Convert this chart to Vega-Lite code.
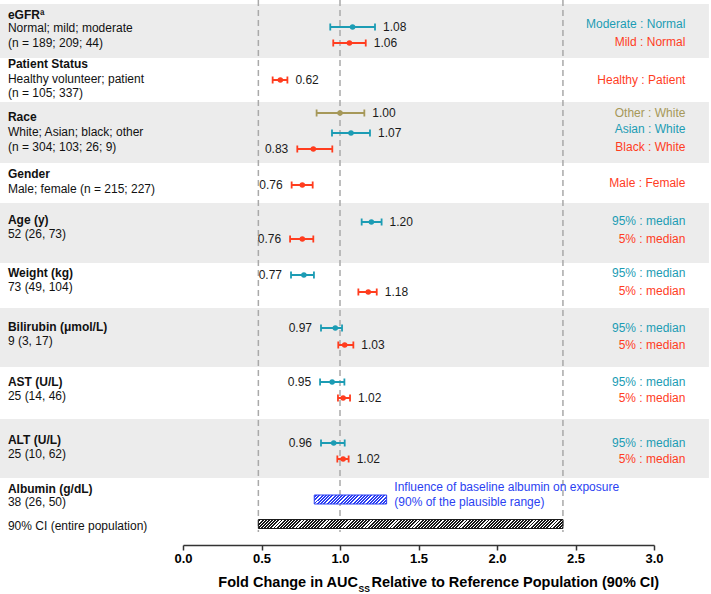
{
"$schema":"https://vega.github.io/schema/vega-lite/v6.json",
"width":471,"height":545,
"autosize":{"type":"none"},
"padding":{"left":183,"right":57,"top":0,"bottom":49},
"background":"white",
"config":{"view":{"stroke":null},"font":"Liberation Sans","text":{"font":"Liberation Sans"},
 "axisX":{"labelOverlap":false,"labelFlush":false,"labelFont":"Liberation Sans","labelFontWeight":"bold","labelFontSize":13,"labelColor":"#000","labelPadding":2,"tickSize":5,"tickWidth":1.5,"tickColor":"#333","domainColor":"#333","domainWidth":1.5,"grid":false,"tickCount":12,"labelExpr":"datum.value % 0.5 == 0 ? format(datum.value, '.1f') : ''"}},
"data":{"values":[{}]},
"datasets":{
"bands":[{"y1":0.4,"y2":5.8},{"y1":10.2,"y2":16.3},{"y1":20.3,"y2":26.3},{"y1":30.8,"y2":36.7},{"y1":41.9,"y2":47.8}],
"refs":[{"ref":0.48},{"ref":1.0},{"ref":2.42}],
"est":[
{"cov":"eGFR","cmp":"1","y":2.7,"est":1.08,"lo":0.938,"hi":1.223,"side":"R"},
{"cov":"eGFR","cmp":"2","y":4.3,"est":1.06,"lo":0.957,"hi":1.164,"side":"R"},
{"cov":"Patient","cmp":"2","y":8.0,"est":0.62,"lo":0.571,"hi":0.665,"side":"R"},
{"cov":"Race","cmp":"3","y":11.3,"est":1.00,"lo":0.851,"hi":1.155,"side":"R"},
{"cov":"Race","cmp":"1","y":13.3,"est":1.07,"lo":0.949,"hi":1.191,"side":"R"},
{"cov":"Race","cmp":"2","y":14.9,"est":0.83,"lo":0.728,"hi":0.951,"side":"L"},
{"cov":"Gender","cmp":"2","y":18.5,"est":0.76,"lo":0.692,"hi":0.826,"side":"L"},
{"cov":"Age","cmp":"1","y":22.2,"est":1.20,"lo":1.138,"hi":1.265,"side":"R"},
{"cov":"Age","cmp":"2","y":23.9,"est":0.76,"lo":0.682,"hi":0.830,"side":"L"},
{"cov":"Weight","cmp":"1","y":27.5,"est":0.77,"lo":0.688,"hi":0.834,"side":"L"},
{"cov":"Weight","cmp":"2","y":29.2,"est":1.18,"lo":1.117,"hi":1.234,"side":"R"},
{"cov":"Bilirubin","cmp":"1","y":32.8,"est":0.97,"lo":0.879,"hi":1.013,"side":"L"},
{"cov":"Bilirubin","cmp":"2","y":34.5,"est":1.03,"lo":0.989,"hi":1.085,"side":"R"},
{"cov":"AST","cmp":"1","y":38.2,"est":0.95,"lo":0.873,"hi":1.028,"side":"L"},
{"cov":"AST","cmp":"2","y":39.8,"est":1.02,"lo":0.987,"hi":1.064,"side":"R"},
{"cov":"ALT","cmp":"1","y":44.3,"est":0.96,"lo":0.879,"hi":1.030,"side":"L"},
{"cov":"ALT","cmp":"2","y":45.9,"est":1.02,"lo":0.983,"hi":1.055,"side":"R"}
],
"left":[
{"t":"eGFRª","y":1.5,"b":1},{"t":"Normal; mild; moderate","y":2.8,"b":0},{"t":"(n = 189; 209; 44)","y":4.3,"b":0},
{"t":"Patient Status","y":6.4,"b":1},{"t":"Healthy volunteer; patient","y":7.9,"b":0},{"t":"(n = 105; 337)","y":9.3,"b":0},
{"t":"Race","y":11.7,"b":1},{"t":"White; Asian; black; other","y":13.2,"b":0},{"t":"(n = 304; 103; 26; 9)","y":14.7,"b":0},
{"t":"Gender","y":17.4,"b":1},{"t":"Male; female (n = 215; 227)","y":18.9,"b":0},
{"t":"Age (y)","y":22.0,"b":1},{"t":"52 (26, 73)","y":23.4,"b":0},
{"t":"Weight (kg)","y":27.3,"b":1},{"t":"73 (49, 104)","y":28.7,"b":0},
{"t":"Bilirubin (μmol/L)","y":32.7,"b":1},{"t":"9 (3, 17)","y":34.1,"b":0},
{"t":"AST (U/L)","y":38.2,"b":1},{"t":"25 (14, 46)","y":39.6,"b":0},
{"t":"ALT (U/L)","y":44.0,"b":1},{"t":"25 (10, 62)","y":45.4,"b":0},
{"t":"Albumin (g/dL)","y":48.9,"b":1},{"t":"38 (26, 50)","y":50.2,"b":0},
{"t":"90% CI (entire population)","y":52.6,"b":0}
],
"right":[
{"t":"Moderate :  Normal","y":2.4,"cmp":"1"},{"t":"Mild : Normal","y":4.2,"cmp":"2"},
{"t":"Healthy : Patient","y":8.0,"cmp":"2"},
{"t":"Other : White","y":11.3,"cmp":"3"},{"t":"Asian : White","y":12.9,"cmp":"1"},{"t":"Black : White","y":14.7,"cmp":"2"},
{"t":"Male : Female","y":18.3,"cmp":"2"},
{"t":"95% : median","y":22.1,"cmp":"1"},{"t":"5% : median","y":23.9,"cmp":"2"},
{"t":"95% : median","y":27.3,"cmp":"1"},{"t":"5% : median","y":29.1,"cmp":"2"},
{"t":"95% : median","y":32.8,"cmp":"1"},{"t":"5% : median","y":34.5,"cmp":"2"},
{"t":"95% : median","y":38.2,"cmp":"1"},{"t":"5% : median","y":39.8,"cmp":"2"},
{"t":"95% : median","y":44.3,"cmp":"1"},{"t":"5% : median","y":45.9,"cmp":"2"}
],
"albumin":[{"lo":0.836,"hi":1.297,"y1":49.5,"y2":50.4}],
"albnote":[{"t":"Influence of baseline albumin on exposure","y":48.7},{"t":"(90% of the plausible range)","y":50.2}],
"pop":[{"lo":0.48,"hi":2.42,"y1":51.95,"y2":52.85}]
},
"layer":[
{"data":{"name":"bands"},"mark":{"type":"rect","fill":"#ececec"},
 "encoding":{
  "x":{"datum":-1.166,"type":"quantitative","title":null,"scale":{"domain":[0,3],"nice":false,"zero":false}},
  "x2":{"datum":3.35},
  "y":{"field":"y1","type":"quantitative","scale":{"domain":[0,54.5],"reverse":true,"nice":false,"zero":false},"axis":null},
  "y2":{"field":"y2"}}},
{"data":{"name":"refs"},"mark":{"type":"rule","color":"#a9a9a9","strokeWidth":1.5,"strokeDash":[6,4]},
 "encoding":{"x":{"field":"ref","type":"quantitative","title":null,"scale":{"domain":[0,3],"nice":false,"zero":false},
   "axis":{"values":[0,0.25,0.5,0.75,1,1.25,1.5,1.75,2,2.25,2.5,2.75,3],"labelExpr":"datum.value % 0.5 == 0 ? format(datum.value, '.1f') : ''","labelOverlap":false,"labelFlush":false,"grid":false,"title":null}},
  "y":{"datum":0,"type":"quantitative","axis":null},"y2":{"datum":53.2}}},
{"data":{"name":"albumin"},"mark":{"type":"rect","stroke":"#2b3ff2","strokeWidth":1,
 "fill":{"gradient":"linear","x1":0,"y1":0,"x2":1.107,"y2":0.138,"stops":[
{"offset":0,"color":"#fff"},{"offset":0.016,"color":"#fff"},{"offset":0.016,"color":"#2b3ff2"},{"offset":0.04,"color":"#2b3ff2"},
{"offset":0.04,"color":"#fff"},{"offset":0.056,"color":"#fff"},{"offset":0.056,"color":"#2b3ff2"},{"offset":0.08,"color":"#2b3ff2"},
{"offset":0.08,"color":"#fff"},{"offset":0.096,"color":"#fff"},{"offset":0.096,"color":"#2b3ff2"},{"offset":0.12,"color":"#2b3ff2"},
{"offset":0.12,"color":"#fff"},{"offset":0.136,"color":"#fff"},{"offset":0.136,"color":"#2b3ff2"},{"offset":0.16,"color":"#2b3ff2"},
{"offset":0.16,"color":"#fff"},{"offset":0.176,"color":"#fff"},{"offset":0.176,"color":"#2b3ff2"},{"offset":0.2,"color":"#2b3ff2"},
{"offset":0.2,"color":"#fff"},{"offset":0.216,"color":"#fff"},{"offset":0.216,"color":"#2b3ff2"},{"offset":0.24,"color":"#2b3ff2"},
{"offset":0.24,"color":"#fff"},{"offset":0.256,"color":"#fff"},{"offset":0.256,"color":"#2b3ff2"},{"offset":0.28,"color":"#2b3ff2"},
{"offset":0.28,"color":"#fff"},{"offset":0.296,"color":"#fff"},{"offset":0.296,"color":"#2b3ff2"},{"offset":0.32,"color":"#2b3ff2"},
{"offset":0.32,"color":"#fff"},{"offset":0.336,"color":"#fff"},{"offset":0.336,"color":"#2b3ff2"},{"offset":0.36,"color":"#2b3ff2"},
{"offset":0.36,"color":"#fff"},{"offset":0.376,"color":"#fff"},{"offset":0.376,"color":"#2b3ff2"},{"offset":0.4,"color":"#2b3ff2"},
{"offset":0.4,"color":"#fff"},{"offset":0.416,"color":"#fff"},{"offset":0.416,"color":"#2b3ff2"},{"offset":0.44,"color":"#2b3ff2"},
{"offset":0.44,"color":"#fff"},{"offset":0.456,"color":"#fff"},{"offset":0.456,"color":"#2b3ff2"},{"offset":0.48,"color":"#2b3ff2"},
{"offset":0.48,"color":"#fff"},{"offset":0.496,"color":"#fff"},{"offset":0.496,"color":"#2b3ff2"},{"offset":0.52,"color":"#2b3ff2"},
{"offset":0.52,"color":"#fff"},{"offset":0.536,"color":"#fff"},{"offset":0.536,"color":"#2b3ff2"},{"offset":0.56,"color":"#2b3ff2"},
{"offset":0.56,"color":"#fff"},{"offset":0.576,"color":"#fff"},{"offset":0.576,"color":"#2b3ff2"},{"offset":0.6,"color":"#2b3ff2"},
{"offset":0.6,"color":"#fff"},{"offset":0.616,"color":"#fff"},{"offset":0.616,"color":"#2b3ff2"},{"offset":0.64,"color":"#2b3ff2"},
{"offset":0.64,"color":"#fff"},{"offset":0.656,"color":"#fff"},{"offset":0.656,"color":"#2b3ff2"},{"offset":0.68,"color":"#2b3ff2"},
{"offset":0.68,"color":"#fff"},{"offset":0.696,"color":"#fff"},{"offset":0.696,"color":"#2b3ff2"},{"offset":0.72,"color":"#2b3ff2"},
{"offset":0.72,"color":"#fff"},{"offset":0.736,"color":"#fff"},{"offset":0.736,"color":"#2b3ff2"},{"offset":0.76,"color":"#2b3ff2"},
{"offset":0.76,"color":"#fff"},{"offset":0.776,"color":"#fff"},{"offset":0.776,"color":"#2b3ff2"},{"offset":0.8,"color":"#2b3ff2"},
{"offset":0.8,"color":"#fff"},{"offset":0.816,"color":"#fff"},{"offset":0.816,"color":"#2b3ff2"},{"offset":0.84,"color":"#2b3ff2"},
{"offset":0.84,"color":"#fff"},{"offset":0.856,"color":"#fff"},{"offset":0.856,"color":"#2b3ff2"},{"offset":0.88,"color":"#2b3ff2"},
{"offset":0.88,"color":"#fff"},{"offset":0.896,"color":"#fff"},{"offset":0.896,"color":"#2b3ff2"},{"offset":0.92,"color":"#2b3ff2"},
{"offset":0.92,"color":"#fff"},{"offset":0.936,"color":"#fff"},{"offset":0.936,"color":"#2b3ff2"},{"offset":0.96,"color":"#2b3ff2"},
{"offset":0.96,"color":"#fff"},{"offset":0.976,"color":"#fff"},{"offset":0.976,"color":"#2b3ff2"},{"offset":1,"color":"#2b3ff2"}
]}},
 "encoding":{"x":{"field":"lo","type":"quantitative","title":null},"x2":{"field":"hi"},"y":{"field":"y1","type":"quantitative","axis":null},"y2":{"field":"y2"}}},
{"data":{"name":"pop"},"mark":{"type":"rect","stroke":"#1a1a1a","strokeWidth":1,
 "fill":{"gradient":"linear","x1":0,"y1":0,"x2":1.0287,"y2":0.0304,"stops":[
{"offset":0,"color":"#fff"},{"offset":0.004,"color":"#fff"},{"offset":0.004,"color":"#151515"},{"offset":0.01,"color":"#151515"},
{"offset":0.01,"color":"#fff"},{"offset":0.014,"color":"#fff"},{"offset":0.014,"color":"#151515"},{"offset":0.02,"color":"#151515"},
{"offset":0.02,"color":"#fff"},{"offset":0.024,"color":"#fff"},{"offset":0.024,"color":"#151515"},{"offset":0.03,"color":"#151515"},
{"offset":0.03,"color":"#fff"},{"offset":0.034,"color":"#fff"},{"offset":0.034,"color":"#151515"},{"offset":0.04,"color":"#151515"},
{"offset":0.04,"color":"#fff"},{"offset":0.044,"color":"#fff"},{"offset":0.044,"color":"#151515"},{"offset":0.05,"color":"#151515"},
{"offset":0.05,"color":"#fff"},{"offset":0.054,"color":"#fff"},{"offset":0.054,"color":"#151515"},{"offset":0.06,"color":"#151515"},
{"offset":0.06,"color":"#fff"},{"offset":0.064,"color":"#fff"},{"offset":0.064,"color":"#151515"},{"offset":0.07,"color":"#151515"},
{"offset":0.07,"color":"#fff"},{"offset":0.074,"color":"#fff"},{"offset":0.074,"color":"#151515"},{"offset":0.08,"color":"#151515"},
{"offset":0.08,"color":"#fff"},{"offset":0.084,"color":"#fff"},{"offset":0.084,"color":"#151515"},{"offset":0.09,"color":"#151515"},
{"offset":0.09,"color":"#fff"},{"offset":0.094,"color":"#fff"},{"offset":0.094,"color":"#151515"},{"offset":0.1,"color":"#151515"},
{"offset":0.1,"color":"#fff"},{"offset":0.104,"color":"#fff"},{"offset":0.104,"color":"#151515"},{"offset":0.11,"color":"#151515"},
{"offset":0.11,"color":"#fff"},{"offset":0.114,"color":"#fff"},{"offset":0.114,"color":"#151515"},{"offset":0.12,"color":"#151515"},
{"offset":0.12,"color":"#fff"},{"offset":0.124,"color":"#fff"},{"offset":0.124,"color":"#151515"},{"offset":0.13,"color":"#151515"},
{"offset":0.13,"color":"#fff"},{"offset":0.134,"color":"#fff"},{"offset":0.134,"color":"#151515"},{"offset":0.14,"color":"#151515"},
{"offset":0.14,"color":"#fff"},{"offset":0.144,"color":"#fff"},{"offset":0.144,"color":"#151515"},{"offset":0.15,"color":"#151515"},
{"offset":0.15,"color":"#fff"},{"offset":0.154,"color":"#fff"},{"offset":0.154,"color":"#151515"},{"offset":0.16,"color":"#151515"},
{"offset":0.16,"color":"#fff"},{"offset":0.164,"color":"#fff"},{"offset":0.164,"color":"#151515"},{"offset":0.17,"color":"#151515"},
{"offset":0.17,"color":"#fff"},{"offset":0.174,"color":"#fff"},{"offset":0.174,"color":"#151515"},{"offset":0.18,"color":"#151515"},
{"offset":0.18,"color":"#fff"},{"offset":0.184,"color":"#fff"},{"offset":0.184,"color":"#151515"},{"offset":0.19,"color":"#151515"},
{"offset":0.19,"color":"#fff"},{"offset":0.194,"color":"#fff"},{"offset":0.194,"color":"#151515"},{"offset":0.2,"color":"#151515"},
{"offset":0.2,"color":"#fff"},{"offset":0.204,"color":"#fff"},{"offset":0.204,"color":"#151515"},{"offset":0.21,"color":"#151515"},
{"offset":0.21,"color":"#fff"},{"offset":0.214,"color":"#fff"},{"offset":0.214,"color":"#151515"},{"offset":0.22,"color":"#151515"},
{"offset":0.22,"color":"#fff"},{"offset":0.224,"color":"#fff"},{"offset":0.224,"color":"#151515"},{"offset":0.23,"color":"#151515"},
{"offset":0.23,"color":"#fff"},{"offset":0.234,"color":"#fff"},{"offset":0.234,"color":"#151515"},{"offset":0.24,"color":"#151515"},
{"offset":0.24,"color":"#fff"},{"offset":0.244,"color":"#fff"},{"offset":0.244,"color":"#151515"},{"offset":0.25,"color":"#151515"},
{"offset":0.25,"color":"#fff"},{"offset":0.254,"color":"#fff"},{"offset":0.254,"color":"#151515"},{"offset":0.26,"color":"#151515"},
{"offset":0.26,"color":"#fff"},{"offset":0.264,"color":"#fff"},{"offset":0.264,"color":"#151515"},{"offset":0.27,"color":"#151515"},
{"offset":0.27,"color":"#fff"},{"offset":0.274,"color":"#fff"},{"offset":0.274,"color":"#151515"},{"offset":0.28,"color":"#151515"},
{"offset":0.28,"color":"#fff"},{"offset":0.284,"color":"#fff"},{"offset":0.284,"color":"#151515"},{"offset":0.29,"color":"#151515"},
{"offset":0.29,"color":"#fff"},{"offset":0.294,"color":"#fff"},{"offset":0.294,"color":"#151515"},{"offset":0.3,"color":"#151515"},
{"offset":0.3,"color":"#fff"},{"offset":0.304,"color":"#fff"},{"offset":0.304,"color":"#151515"},{"offset":0.31,"color":"#151515"},
{"offset":0.31,"color":"#fff"},{"offset":0.314,"color":"#fff"},{"offset":0.314,"color":"#151515"},{"offset":0.32,"color":"#151515"},
{"offset":0.32,"color":"#fff"},{"offset":0.324,"color":"#fff"},{"offset":0.324,"color":"#151515"},{"offset":0.33,"color":"#151515"},
{"offset":0.33,"color":"#fff"},{"offset":0.334,"color":"#fff"},{"offset":0.334,"color":"#151515"},{"offset":0.34,"color":"#151515"},
{"offset":0.34,"color":"#fff"},{"offset":0.344,"color":"#fff"},{"offset":0.344,"color":"#151515"},{"offset":0.35,"color":"#151515"},
{"offset":0.35,"color":"#fff"},{"offset":0.354,"color":"#fff"},{"offset":0.354,"color":"#151515"},{"offset":0.36,"color":"#151515"},
{"offset":0.36,"color":"#fff"},{"offset":0.364,"color":"#fff"},{"offset":0.364,"color":"#151515"},{"offset":0.37,"color":"#151515"},
{"offset":0.37,"color":"#fff"},{"offset":0.374,"color":"#fff"},{"offset":0.374,"color":"#151515"},{"offset":0.38,"color":"#151515"},
{"offset":0.38,"color":"#fff"},{"offset":0.384,"color":"#fff"},{"offset":0.384,"color":"#151515"},{"offset":0.39,"color":"#151515"},
{"offset":0.39,"color":"#fff"},{"offset":0.394,"color":"#fff"},{"offset":0.394,"color":"#151515"},{"offset":0.4,"color":"#151515"},
{"offset":0.4,"color":"#fff"},{"offset":0.404,"color":"#fff"},{"offset":0.404,"color":"#151515"},{"offset":0.41,"color":"#151515"},
{"offset":0.41,"color":"#fff"},{"offset":0.414,"color":"#fff"},{"offset":0.414,"color":"#151515"},{"offset":0.42,"color":"#151515"},
{"offset":0.42,"color":"#fff"},{"offset":0.424,"color":"#fff"},{"offset":0.424,"color":"#151515"},{"offset":0.43,"color":"#151515"},
{"offset":0.43,"color":"#fff"},{"offset":0.434,"color":"#fff"},{"offset":0.434,"color":"#151515"},{"offset":0.44,"color":"#151515"},
{"offset":0.44,"color":"#fff"},{"offset":0.444,"color":"#fff"},{"offset":0.444,"color":"#151515"},{"offset":0.45,"color":"#151515"},
{"offset":0.45,"color":"#fff"},{"offset":0.454,"color":"#fff"},{"offset":0.454,"color":"#151515"},{"offset":0.46,"color":"#151515"},
{"offset":0.46,"color":"#fff"},{"offset":0.464,"color":"#fff"},{"offset":0.464,"color":"#151515"},{"offset":0.47,"color":"#151515"},
{"offset":0.47,"color":"#fff"},{"offset":0.474,"color":"#fff"},{"offset":0.474,"color":"#151515"},{"offset":0.48,"color":"#151515"},
{"offset":0.48,"color":"#fff"},{"offset":0.484,"color":"#fff"},{"offset":0.484,"color":"#151515"},{"offset":0.49,"color":"#151515"},
{"offset":0.49,"color":"#fff"},{"offset":0.494,"color":"#fff"},{"offset":0.494,"color":"#151515"},{"offset":0.5,"color":"#151515"},
{"offset":0.5,"color":"#fff"},{"offset":0.504,"color":"#fff"},{"offset":0.504,"color":"#151515"},{"offset":0.51,"color":"#151515"},
{"offset":0.51,"color":"#fff"},{"offset":0.514,"color":"#fff"},{"offset":0.514,"color":"#151515"},{"offset":0.52,"color":"#151515"},
{"offset":0.52,"color":"#fff"},{"offset":0.524,"color":"#fff"},{"offset":0.524,"color":"#151515"},{"offset":0.53,"color":"#151515"},
{"offset":0.53,"color":"#fff"},{"offset":0.534,"color":"#fff"},{"offset":0.534,"color":"#151515"},{"offset":0.54,"color":"#151515"},
{"offset":0.54,"color":"#fff"},{"offset":0.544,"color":"#fff"},{"offset":0.544,"color":"#151515"},{"offset":0.55,"color":"#151515"},
{"offset":0.55,"color":"#fff"},{"offset":0.554,"color":"#fff"},{"offset":0.554,"color":"#151515"},{"offset":0.56,"color":"#151515"},
{"offset":0.56,"color":"#fff"},{"offset":0.564,"color":"#fff"},{"offset":0.564,"color":"#151515"},{"offset":0.57,"color":"#151515"},
{"offset":0.57,"color":"#fff"},{"offset":0.574,"color":"#fff"},{"offset":0.574,"color":"#151515"},{"offset":0.58,"color":"#151515"},
{"offset":0.58,"color":"#fff"},{"offset":0.584,"color":"#fff"},{"offset":0.584,"color":"#151515"},{"offset":0.59,"color":"#151515"},
{"offset":0.59,"color":"#fff"},{"offset":0.594,"color":"#fff"},{"offset":0.594,"color":"#151515"},{"offset":0.6,"color":"#151515"},
{"offset":0.6,"color":"#fff"},{"offset":0.604,"color":"#fff"},{"offset":0.604,"color":"#151515"},{"offset":0.61,"color":"#151515"},
{"offset":0.61,"color":"#fff"},{"offset":0.614,"color":"#fff"},{"offset":0.614,"color":"#151515"},{"offset":0.62,"color":"#151515"},
{"offset":0.62,"color":"#fff"},{"offset":0.624,"color":"#fff"},{"offset":0.624,"color":"#151515"},{"offset":0.63,"color":"#151515"},
{"offset":0.63,"color":"#fff"},{"offset":0.634,"color":"#fff"},{"offset":0.634,"color":"#151515"},{"offset":0.64,"color":"#151515"},
{"offset":0.64,"color":"#fff"},{"offset":0.644,"color":"#fff"},{"offset":0.644,"color":"#151515"},{"offset":0.65,"color":"#151515"},
{"offset":0.65,"color":"#fff"},{"offset":0.654,"color":"#fff"},{"offset":0.654,"color":"#151515"},{"offset":0.66,"color":"#151515"},
{"offset":0.66,"color":"#fff"},{"offset":0.664,"color":"#fff"},{"offset":0.664,"color":"#151515"},{"offset":0.67,"color":"#151515"},
{"offset":0.67,"color":"#fff"},{"offset":0.674,"color":"#fff"},{"offset":0.674,"color":"#151515"},{"offset":0.68,"color":"#151515"},
{"offset":0.68,"color":"#fff"},{"offset":0.684,"color":"#fff"},{"offset":0.684,"color":"#151515"},{"offset":0.69,"color":"#151515"},
{"offset":0.69,"color":"#fff"},{"offset":0.694,"color":"#fff"},{"offset":0.694,"color":"#151515"},{"offset":0.7,"color":"#151515"},
{"offset":0.7,"color":"#fff"},{"offset":0.704,"color":"#fff"},{"offset":0.704,"color":"#151515"},{"offset":0.71,"color":"#151515"},
{"offset":0.71,"color":"#fff"},{"offset":0.714,"color":"#fff"},{"offset":0.714,"color":"#151515"},{"offset":0.72,"color":"#151515"},
{"offset":0.72,"color":"#fff"},{"offset":0.724,"color":"#fff"},{"offset":0.724,"color":"#151515"},{"offset":0.73,"color":"#151515"},
{"offset":0.73,"color":"#fff"},{"offset":0.734,"color":"#fff"},{"offset":0.734,"color":"#151515"},{"offset":0.74,"color":"#151515"},
{"offset":0.74,"color":"#fff"},{"offset":0.744,"color":"#fff"},{"offset":0.744,"color":"#151515"},{"offset":0.75,"color":"#151515"},
{"offset":0.75,"color":"#fff"},{"offset":0.754,"color":"#fff"},{"offset":0.754,"color":"#151515"},{"offset":0.76,"color":"#151515"},
{"offset":0.76,"color":"#fff"},{"offset":0.764,"color":"#fff"},{"offset":0.764,"color":"#151515"},{"offset":0.77,"color":"#151515"},
{"offset":0.77,"color":"#fff"},{"offset":0.774,"color":"#fff"},{"offset":0.774,"color":"#151515"},{"offset":0.78,"color":"#151515"},
{"offset":0.78,"color":"#fff"},{"offset":0.784,"color":"#fff"},{"offset":0.784,"color":"#151515"},{"offset":0.79,"color":"#151515"},
{"offset":0.79,"color":"#fff"},{"offset":0.794,"color":"#fff"},{"offset":0.794,"color":"#151515"},{"offset":0.8,"color":"#151515"},
{"offset":0.8,"color":"#fff"},{"offset":0.804,"color":"#fff"},{"offset":0.804,"color":"#151515"},{"offset":0.81,"color":"#151515"},
{"offset":0.81,"color":"#fff"},{"offset":0.814,"color":"#fff"},{"offset":0.814,"color":"#151515"},{"offset":0.82,"color":"#151515"},
{"offset":0.82,"color":"#fff"},{"offset":0.824,"color":"#fff"},{"offset":0.824,"color":"#151515"},{"offset":0.83,"color":"#151515"},
{"offset":0.83,"color":"#fff"},{"offset":0.834,"color":"#fff"},{"offset":0.834,"color":"#151515"},{"offset":0.84,"color":"#151515"},
{"offset":0.84,"color":"#fff"},{"offset":0.844,"color":"#fff"},{"offset":0.844,"color":"#151515"},{"offset":0.85,"color":"#151515"},
{"offset":0.85,"color":"#fff"},{"offset":0.854,"color":"#fff"},{"offset":0.854,"color":"#151515"},{"offset":0.86,"color":"#151515"},
{"offset":0.86,"color":"#fff"},{"offset":0.864,"color":"#fff"},{"offset":0.864,"color":"#151515"},{"offset":0.87,"color":"#151515"},
{"offset":0.87,"color":"#fff"},{"offset":0.874,"color":"#fff"},{"offset":0.874,"color":"#151515"},{"offset":0.88,"color":"#151515"},
{"offset":0.88,"color":"#fff"},{"offset":0.884,"color":"#fff"},{"offset":0.884,"color":"#151515"},{"offset":0.89,"color":"#151515"},
{"offset":0.89,"color":"#fff"},{"offset":0.894,"color":"#fff"},{"offset":0.894,"color":"#151515"},{"offset":0.9,"color":"#151515"},
{"offset":0.9,"color":"#fff"},{"offset":0.904,"color":"#fff"},{"offset":0.904,"color":"#151515"},{"offset":0.91,"color":"#151515"},
{"offset":0.91,"color":"#fff"},{"offset":0.914,"color":"#fff"},{"offset":0.914,"color":"#151515"},{"offset":0.92,"color":"#151515"},
{"offset":0.92,"color":"#fff"},{"offset":0.924,"color":"#fff"},{"offset":0.924,"color":"#151515"},{"offset":0.93,"color":"#151515"},
{"offset":0.93,"color":"#fff"},{"offset":0.934,"color":"#fff"},{"offset":0.934,"color":"#151515"},{"offset":0.94,"color":"#151515"},
{"offset":0.94,"color":"#fff"},{"offset":0.944,"color":"#fff"},{"offset":0.944,"color":"#151515"},{"offset":0.95,"color":"#151515"},
{"offset":0.95,"color":"#fff"},{"offset":0.954,"color":"#fff"},{"offset":0.954,"color":"#151515"},{"offset":0.96,"color":"#151515"},
{"offset":0.96,"color":"#fff"},{"offset":0.964,"color":"#fff"},{"offset":0.964,"color":"#151515"},{"offset":0.97,"color":"#151515"},
{"offset":0.97,"color":"#fff"},{"offset":0.974,"color":"#fff"},{"offset":0.974,"color":"#151515"},{"offset":0.98,"color":"#151515"},
{"offset":0.98,"color":"#fff"},{"offset":0.984,"color":"#fff"},{"offset":0.984,"color":"#151515"},{"offset":0.99,"color":"#151515"},
{"offset":0.99,"color":"#fff"},{"offset":0.994,"color":"#fff"},{"offset":0.994,"color":"#151515"},{"offset":1,"color":"#151515"}
]}},
 "encoding":{"x":{"field":"lo","type":"quantitative","title":null},"x2":{"field":"hi"},"y":{"field":"y1","type":"quantitative","axis":null},"y2":{"field":"y2"}}},
{"data":{"name":"est"},"mark":{"type":"rule","strokeWidth":2},
 "encoding":{"x":{"field":"lo","type":"quantitative","title":null},"x2":{"field":"hi"},"y":{"field":"y","type":"quantitative","axis":null},
  "color":{"field":"cmp","type":"nominal","scale":{"domain":["1","2","3"],"range":["#1c9cb4","#ff3d1f","#a69859"]},"legend":null}}},
{"data":{"name":"est"},"mark":{"type":"rule","strokeWidth":1.8,"yOffset":-3.5,"y2Offset":3.5},
 "encoding":{"x":{"field":"lo","type":"quantitative","title":null},"y":{"field":"y","type":"quantitative","axis":null},"y2":{"field":"y"},
  "color":{"field":"cmp","type":"nominal","legend":null}}},
{"data":{"name":"est"},"mark":{"type":"rule","strokeWidth":1.8,"yOffset":-3.5,"y2Offset":3.5},
 "encoding":{"x":{"field":"hi","type":"quantitative","title":null},"y":{"field":"y","type":"quantitative","axis":null},"y2":{"field":"y"},
  "color":{"field":"cmp","type":"nominal","legend":null}}},
{"data":{"name":"est"},"mark":{"type":"point","filled":true,"shape":"circle","size":30,"opacity":1},
 "encoding":{"x":{"field":"est","type":"quantitative","title":null},"y":{"field":"y","type":"quantitative","axis":null},
  "color":{"field":"cmp","type":"nominal","legend":null}}},
{"data":{"name":"est"},"transform":[{"filter":"datum.side == 'R'"}],"mark":{"type":"text","align":"left","baseline":"middle","dx":8,"fontSize":12,"color":"#1a1a1a"},
 "encoding":{"x":{"field":"hi","type":"quantitative","title":null},"y":{"field":"y","type":"quantitative","axis":null},"text":{"field":"est","type":"quantitative","format":".2f"}}},
{"data":{"name":"est"},"transform":[{"filter":"datum.side == 'L'"}],"mark":{"type":"text","align":"right","baseline":"middle","dx":-9,"fontSize":12,"color":"#1a1a1a"},
 "encoding":{"x":{"field":"lo","type":"quantitative","title":null},"y":{"field":"y","type":"quantitative","axis":null},"text":{"field":"est","type":"quantitative","format":".2f"}}},
{"data":{"name":"left"},"transform":[{"filter":"datum.b == 1"}],"mark":{"type":"text","align":"left","baseline":"middle","fontSize":12,"fontWeight":"bold","color":"#111"},
 "encoding":{"x":{"datum":-1.115,"type":"quantitative","title":null},"y":{"field":"y","type":"quantitative","axis":null},"text":{"field":"t"}}},
{"data":{"name":"left"},"transform":[{"filter":"datum.b == 0"}],"mark":{"type":"text","align":"left","baseline":"middle","fontSize":12,"color":"#111"},
 "encoding":{"x":{"datum":-1.115,"type":"quantitative","title":null},"y":{"field":"y","type":"quantitative","axis":null},"text":{"field":"t"}}},
{"data":{"name":"right"},"mark":{"type":"text","align":"right","baseline":"middle","fontSize":12},
 "encoding":{"x":{"datum":3.2,"type":"quantitative","title":null},"y":{"field":"y","type":"quantitative","axis":null},"text":{"field":"t"},
  "color":{"field":"cmp","type":"nominal","legend":null}}},
{"data":{"name":"albnote"},"mark":{"type":"text","align":"left","baseline":"middle","fontSize":12,"color":"#2b3ff2"},
 "encoding":{"x":{"datum":1.346,"type":"quantitative","title":null},"y":{"field":"y","type":"quantitative","axis":null},"text":{"field":"t"}}},
{"mark":{"type":"text","align":"right","baseline":"middle","fontSize":14.5,"fontWeight":"bold","color":"#000","text":"Fold Change in AUC"},
 "encoding":{"x":{"datum":1.1146,"type":"quantitative","title":null},"y":{"datum":58.3,"type":"quantitative","axis":null}}},
{"mark":{"type":"text","align":"left","baseline":"middle","fontSize":8.5,"fontWeight":"bold","color":"#000","text":"SS"},
 "encoding":{"x":{"datum":1.1178,"type":"quantitative","title":null},"y":{"datum":58.9,"type":"quantitative","axis":null}}},
{"mark":{"type":"text","align":"left","baseline":"middle","fontSize":14.5,"fontWeight":"bold","color":"#000","text":"Relative to Reference Population (90% CI)"},
 "encoding":{"x":{"datum":1.2006,"type":"quantitative","title":null},"y":{"datum":58.3,"type":"quantitative","axis":null}}}
]
}
